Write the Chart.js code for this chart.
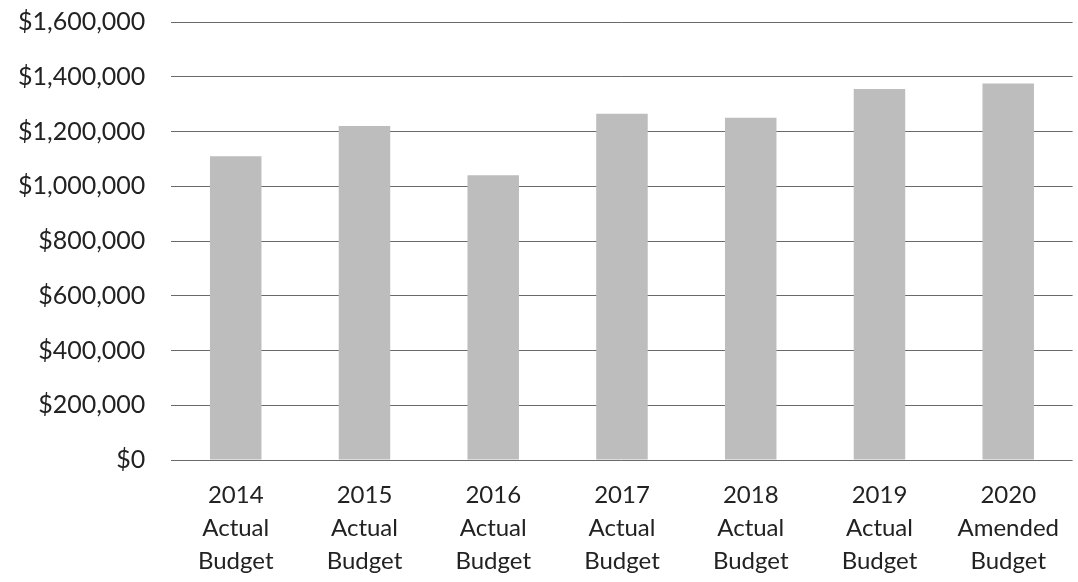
<!DOCTYPE html>
<html>
<head>
<meta charset="utf-8">
<script src="https://cdn.jsdelivr.net/npm/chart.js@4/dist/chart.umd.min.js"></script>
<style>
  html, body { margin: 0; padding: 0; background: #fff; }
  #wrap { width: 1078px; height: 582px; position: relative; }
</style>
</head>
<body>
<div id="wrap"><canvas id="c"></canvas></div>
<script>
const years = ["2014", "2015", "2016", "2017", "2018", "2019", "2020"];
const kinds = ["Actual", "Actual", "Actual", "Actual", "Actual", "Actual", "Amended"];
const suffix = ["Budget", "Budget", "Budget", "Budget", "Budget", "Budget", "Budget"];
const budgetValues = [1110000, 1220000, 1040000, 1265000, 1250000, 1355000, 1375000];
const yTicks = [0, 200000, 400000, 600000, 800000, 1000000, 1200000, 1400000, 1600000];

const labels = years.map((y, i) => [y, kinds[i], suffix[i]]);

new Chart(document.getElementById('c'), {
  type: 'bar',
  data: {
    labels: labels,
    datasets: [{
      data: budgetValues,
      backgroundColor: '#bdbdbd',
      borderWidth: 0,
      barPercentage: 0.8,
      categoryPercentage: 0.5
    }]
  },
  options: {
    responsive: true,
    maintainAspectRatio: false,
    animation: false,
    layout: { padding: { left: -8, right: 0, top: 0, bottom: -15 } },
    plugins: { legend: { display: false }, tooltip: { enabled: false } },
    scales: {
      x: {
        grid: { display: false, drawTicks: false },
        border: { display: false },
        ticks: {
          color: '#222',
          padding: 19,
          maxRotation: 0,
          autoSkip: false,
          font: { family: 'Lato', size: 24, lineHeight: 1.375 }
        }
      },
      y: {
        min: 0,
        max: 1600000,
        afterBuildTicks: (axis) => { axis.ticks = yTicks.map(v => ({ value: v })); },
        afterFit: (axis) => { axis.paddingTop = 22; axis.paddingBottom = 15; },
        grid: { color: '#6a6a6a', lineWidth: 1, drawTicks: false },
        border: { display: false },
        ticks: {
          color: '#222',
          padding: 26,
          font: { family: 'Lato', size: 25, lineHeight: 1.2 },
          callback: (v) => '$' + Number(v).toLocaleString('en-US')
        }
      }
    }
  }
});
</script>
</body>
</html>
